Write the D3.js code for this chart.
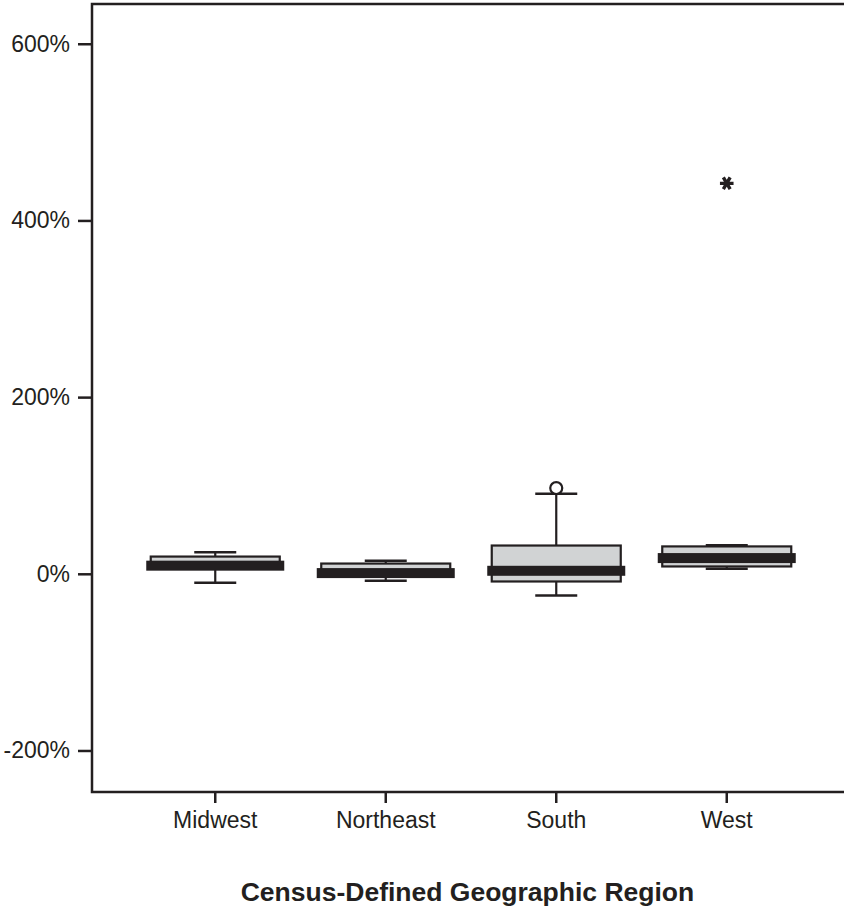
<!DOCTYPE html>
<html>
<head>
<meta charset="utf-8">
<script src="https://cdn.jsdelivr.net/npm/d3@7"></script>
<style>
  html, body { margin: 0; padding: 0; background: #fff; }
  svg { display: block; }
  text { font-family: "Liberation Sans", Arial, sans-serif; fill: #231f20; }
</style>
</head>
<body>
<svg id="chart" width="844" height="908"></svg>
<script>
// ---- data (percent) ----
const regions = ["Midwest", "Northeast", "South", "West"];
const whiskerLow  = [-10, -8, -24.5, 5.8];
const quartile1   = [7, -1, -8.7, 8.3];
const medians     = [9.2, 0.8, 3.4, 17.8];
const quartile3   = [19.5, 11.6, 32, 31];
const whiskerHigh = [24.5, 14.7, 90.5, 32.2];
// outliers: [region, value, kind]
const outlierRegion = ["South", "West"];
const outlierValue  = [97, 442];
const outlierKind   = ["circle", "extreme"];
const yTicks = [-200, 0, 200, 400, 600];
const xTitle = "Census-Defined Geographic Region";

const ink = "#231f20";
const svg = d3.select("#chart");

const y = d3.scaleLinear().domain([-247, 645]).range([792, 4]);
const x = d3.scaleBand().domain(regions).range([130, 812]);
const cx = d => x(d) + x.bandwidth() / 2;

const boxW = 129, medW = 138, capW = 42;

// axes
const yAxis = d3.axisLeft(y).tickValues(yTicks).tickSize(14).tickPadding(8)
  .tickFormat(d => d + "%");
const gy = svg.append("g").attr("transform", "translate(92,0)").call(yAxis);
gy.select(".domain").remove();
gy.selectAll(".tick line").attr("stroke", ink).attr("stroke-width", 2.5);
gy.selectAll(".tick text").style("font-size", "23px").attr("fill", ink);

const xAxis = d3.axisBottom(x).tickSize(11).tickPadding(9);
const gx = svg.append("g").attr("transform", "translate(0,792)").call(xAxis);
gx.select(".domain").remove();
gx.selectAll(".tick line").attr("stroke", ink).attr("stroke-width", 2.5);
gx.selectAll(".tick text").style("font-size", "23px").attr("fill", ink);

// frame
svg.append("path")
  .attr("d", `M844,${y(645)}H92V${y(-247)}H844`)
  .attr("fill", "none").attr("stroke", ink).attr("stroke-width", 2.5);

// boxes
const data = regions.map((r, i) => ({
  r, lo: whiskerLow[i], q1: quartile1[i], med: medians[i], q3: quartile3[i], hi: whiskerHigh[i]
}));
const g = svg.append("g");
data.forEach(d => {
  const c = cx(d.r);
  // whisker stems
  g.append("line").attr("x1", c).attr("x2", c).attr("y1", y(d.hi)).attr("y2", y(d.q3))
    .attr("stroke", ink).attr("stroke-width", 2.2);
  g.append("line").attr("x1", c).attr("x2", c).attr("y1", y(d.q1)).attr("y2", y(d.lo))
    .attr("stroke", ink).attr("stroke-width", 2.2);
  // caps
  [d.hi, d.lo].forEach(v => {
    g.append("line").attr("x1", c - capW / 2).attr("x2", c + capW / 2)
      .attr("y1", y(v)).attr("y2", y(v)).attr("stroke", ink).attr("stroke-width", 2.5);
  });
  // box
  g.append("rect").attr("x", c - boxW / 2).attr("width", boxW)
    .attr("y", y(d.q3)).attr("height", y(d.q1) - y(d.q3))
    .attr("fill", "#d1d3d4").attr("stroke", ink).attr("stroke-width", 2.2);
  // median band
  g.append("rect").attr("x", c - medW / 2).attr("width", medW)
    .attr("y", y(d.med) - 5).attr("height", 10).attr("fill", ink);
});

// outliers
outlierRegion.forEach((r, i) => {
  const c = cx(r), v = outlierValue[i];
  if (outlierKind[i] === "circle") {
    g.append("circle").attr("cx", c).attr("cy", y(v)).attr("r", 6)
      .attr("fill", "#fff").attr("stroke", ink).attr("stroke-width", 2.2);
  } else {
    g.append("path").attr("d", d3.symbol(d3.symbolAsterisk, 130)())
      .attr("transform", `translate(${c},${y(v)}) rotate(90)`)
      .attr("fill", "none").attr("stroke", ink).attr("stroke-width", 3.4);
  }
});

// title
svg.append("text").attr("x", 467.5).attr("y", 901).attr("text-anchor", "middle")
  .style("font-size", "26.5px").style("font-weight", "bold").text(xTitle);
</script>
</body>
</html>
